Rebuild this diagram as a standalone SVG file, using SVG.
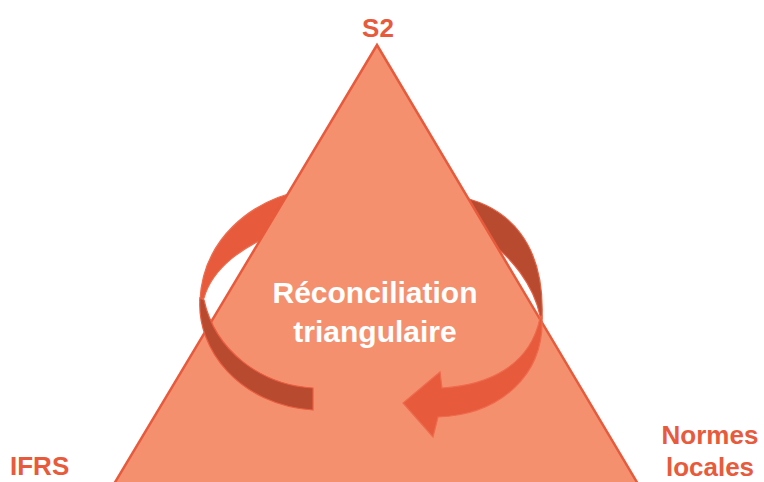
<svg xmlns="http://www.w3.org/2000/svg" width="764" height="482" viewBox="0 0 764 482">
<style>
.lbl{font-family:"Liberation Sans",Arial,sans-serif;font-weight:bold;fill:#E85A3C;font-size:26px}
.ctr{font-family:"Liberation Sans",Arial,sans-serif;font-weight:bold;fill:#FFFFFF;font-size:30px;text-anchor:middle}
.bright{fill:#E85A3C;stroke:#EE6B4D;stroke-width:1.2}
.dark{fill:#B84A30;stroke:#EA5E40;stroke-width:1.2}
.tri{fill:#F5906F;stroke:#E85A3C;stroke-width:2.5;stroke-linejoin:miter}
</style>
<rect width="764" height="482" fill="#FFFFFF"/>
<g id="connectors-back">
  <path class="bright" d="M 305,190 C 250,200 203,240 200,300 L 204,298 C 212,270 240,245 290,228 Z"/>
  <path class="dark" d="M 455,196 C 510,205 545,245 542,318 L 540,316 C 535,290 515,255 470,228 Z"/>
</g>
<g id="node-triangle">
  <polygon class="tri" points="377,45 114,484 638,484"/>
</g>
<g id="connectors">
  <path class="dark" d="M 200,298 C 196,350 240,405 313,410 L 313,388 C 260,385 215,350 204,300 Z"/>
  <path class="bright" d="M 542,316 C 545,375 500,415 438,417 L 433,437 L 403,403 L 440,372 L 442,388 C 490,385 530,365 540,318 Z"/>
</g>
<g id="node-center">
  <text class="ctr" x="375" y="303">Réconciliation</text>
  <text class="ctr" x="375" y="342">triangulaire</text>
</g>
<g id="node-s2">
  <text class="lbl" x="378" y="37" text-anchor="middle">S2</text>
</g>
<g id="node-ifrs">
  <text class="lbl" x="10" y="475">IFRS</text>
</g>
<g id="node-normes">
  <text class="lbl" x="710" y="444" text-anchor="middle">Normes</text>
  <text class="lbl" x="710" y="476" text-anchor="middle">locales</text>
</g>
</svg>
